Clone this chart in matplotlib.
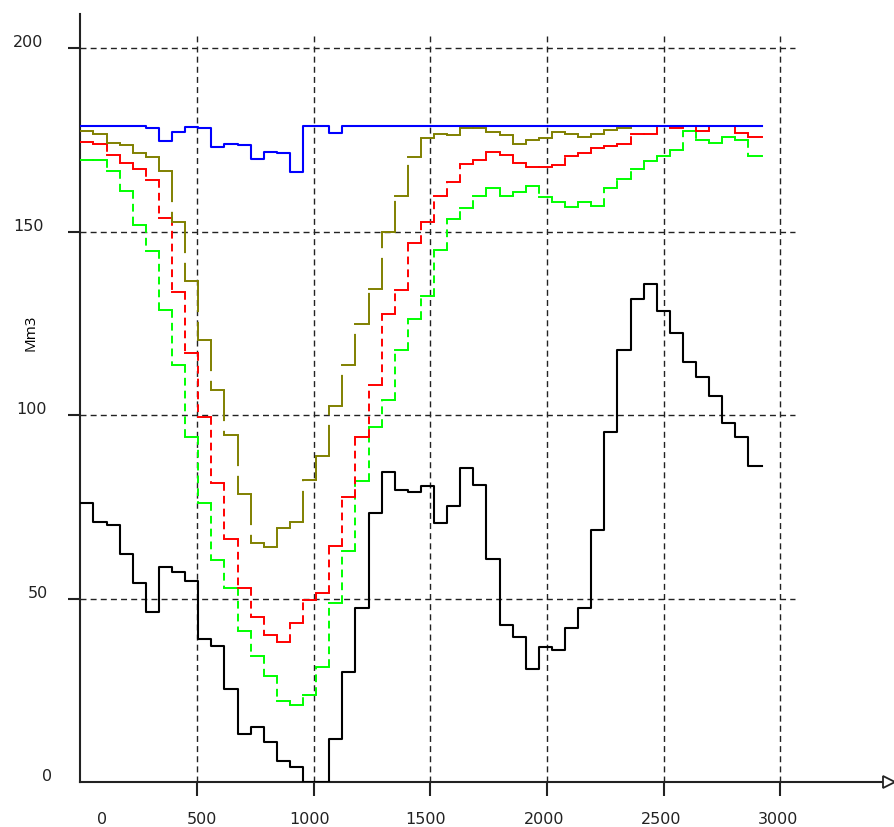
import numpy as np
import matplotlib.pyplot as plt
from matplotlib.transforms import ScaledTranslation

# each value holds for one period of this length (52 periods up to 2920)
step_width = 56.15

blue = [178.7, 178.7, 178.7, 178.7, 178.7, 178.1, 174.8, 177.2, 178.6, 178.3,
        173.1, 174.0, 173.6, 169.8, 171.6, 171.3, 166.2, 178.7, 178.7, 176.8,
        178.7, 178.7, 178.7, 178.7, 178.7, 178.7, 178.7, 178.7, 178.7, 178.7,
        178.7, 178.7, 178.7, 178.7, 178.7, 178.7, 178.7, 178.7, 178.7, 178.7,
        178.7, 178.7, 178.7, 178.7, 178.7, 178.7, 178.7, 178.7, 178.7, 178.7,
        178.7, 178.7]

olive = [177.3, 176.7, 174.1, 173.6, 171.5, 170.2, 166.6, 152.7, 136.6, 120.4,
         106.9, 94.6, 78.5, 65.1, 64.0, 69.1, 70.9, 82.4, 88.9, 102.4,
         113.6, 124.8, 134.3, 149.9, 159.7, 170.2, 175.4, 176.7, 176.4, 178.1,
         178.1, 177.2, 176.3, 174.0, 174.9, 175.4, 177.2, 176.7, 175.8, 176.7,
         177.7, 178.1, 178.7, 178.7, 178.7, 178.7, 178.7, 178.7, 178.7, 178.7,
         178.7, 178.7]

red = [174.5, 173.8, 170.8, 168.7, 167.0, 164.0, 153.8, 133.6, 116.9, 99.4,
       81.5, 66.2, 53.0, 45.1, 40.0, 38.1, 43.4, 49.6, 51.6, 64.4,
       77.8, 94.1, 108.2, 127.5, 134.1, 146.9, 152.7, 159.6, 163.4, 168.4,
       169.5, 171.7, 170.8, 168.8, 167.5, 167.5, 168.2, 170.7, 171.3, 172.7,
       173.2, 173.8, 176.6, 176.6, 178.7, 178.1, 178.7, 177.3, 178.7, 178.7,
       176.8, 175.8]

green = [169.5, 169.5, 166.6, 161.1, 151.8, 144.8, 128.7, 113.6, 93.9, 76.0,
         60.6, 53.0, 41.1, 34.4, 28.8, 22.2, 21.0, 23.8, 31.3, 48.8,
         62.9, 82.1, 96.8, 104.2, 117.8, 126.3, 132.4, 145.0, 153.4, 156.4,
         159.6, 162.0, 159.8, 160.7, 162.3, 159.3, 158.0, 156.6, 158.2, 156.9,
         162.0, 164.3, 167.0, 169.3, 170.7, 172.2, 177.3, 175.0, 174.1, 175.8,
         174.9, 170.7]

black = [76.0, 70.8, 70.0, 62.1, 54.2, 46.4, 58.5, 57.1, 54.8, 39.0,
         37.1, 25.3, 13.1, 15.1, 10.8, 5.6, 4.2, 0.0, 0.0, 11.7,
         29.9, 47.4, 73.2, 84.4, 79.6, 78.9, 80.7, 70.5, 75.1, 85.6,
         81.0, 60.8, 42.8, 39.4, 30.8, 36.7, 36.0, 41.9, 47.3, 68.7,
         95.4, 117.7, 131.5, 135.7, 128.3, 122.3, 114.4, 110.4, 105.3, 97.8,
         93.9, 86.1]

x_ticks = [0, 500, 1000, 1500, 2000, 2500, 3000]
y_ticks = [0, 50, 100, 150, 200]


def edges(vals):
    return np.arange(len(vals) + 1) * step_width


def solid_steps(ax, vals, color, lw=1.5):
    x = edges(vals)
    y = np.append(vals, vals[-1])
    ax.step(x, y, where='post', color=color, lw=lw, zorder=3)


def broken_steps(ax, vals, color, dash, lw=1.4):
    # flat parts solid, risers dashed
    x = edges(vals)
    v = np.asarray(vals)
    h = ax.hlines(v, x[:-1], x[1:], colors=color, lw=lw, zorder=3)
    h.set_capstyle('projecting')
    ax.vlines(x[1:-1], v[:-1], v[1:], colors=color, lw=lw,
              linestyles=[(0, dash)], zorder=3)


fig = plt.figure(figsize=(8.95, 8.28), dpi=100)
ax = fig.add_axes([80.4 / 895, 45 / 828, 804.6 / 895, 768 / 828])
ax.set_xlim(0, 3449)
ax.set_ylim(0, 209.3)

grid_kw = dict(colors='#222222', lw=1.0, linestyles=[(0, (4.3, 3.0))], zorder=1)
ax.vlines(x_ticks[1:], 0, 203.3, **grid_kw)
ax.hlines(y_ticks[1:], 0, 3063, **grid_kw)

broken_steps(ax, green, '#00ff00', (4.0, 2.6))
broken_steps(ax, red, '#ff0000', (4.0, 2.6))
broken_steps(ax, olive, '#808000', (16.0, 5.0))
solid_steps(ax, blue, '#0000ff')
solid_steps(ax, black, '#000000')

for s in ['top', 'right']:
    ax.spines[s].set_visible(False)
for s in ['left', 'bottom']:
    ax.spines[s].set_linewidth(1.5)
    ax.spines[s].set_color('#222222')

ax.set_xticks(x_ticks)
ax.set_xticklabels([str(t) for t in x_ticks])
ax.set_yticks(y_ticks)
ax.set_yticklabels([str(t) for t in y_ticks])
ax.tick_params(axis='x', direction='out', length=10, width=1.5, pad=11,
               labelsize=11.5, colors='#222222')
ax.tick_params(axis='y', direction='out', length=9, width=1.5, pad=16.5,
               labelsize=11.5, colors='#222222')
ax.xaxis.get_major_ticks()[0].tick1line.set_visible(False)
ax.yaxis.get_major_ticks()[0].tick1line.set_visible(False)

# label nudges in pixels
x_dx = [26.6, 20, 16, 16, 17, 17.7, 18]
for lab, dx in zip(ax.get_xticklabels(), x_dx):
    lab.set_horizontalalignment('right')
    lab.set_transform(lab.get_transform() + ScaledTranslation(dx / 100, 0, fig.dpi_scale_trans))
y_dx = [7, 3, 2, -1, -2]
for lab, dx in zip(ax.get_yticklabels(), y_dx):
    lab.set_transform(lab.get_transform() + ScaledTranslation(dx / 100, 8 / 100, fig.dpi_scale_trans))

# arrow head at the end of the x axis
ax.plot([1.005], [0.0], transform=ax.transAxes, marker='>', ms=9,
        mfc='white', mec='#222222', mew=1.3, clip_on=False, zorder=5)

fig.text(31 / 895, 1 - 333 / 828, 'Mm3', rotation=90, ha='center', va='center',
         fontsize=11, family='Open Sans', color='black')

fig.savefig('out.png', dpi=100)
